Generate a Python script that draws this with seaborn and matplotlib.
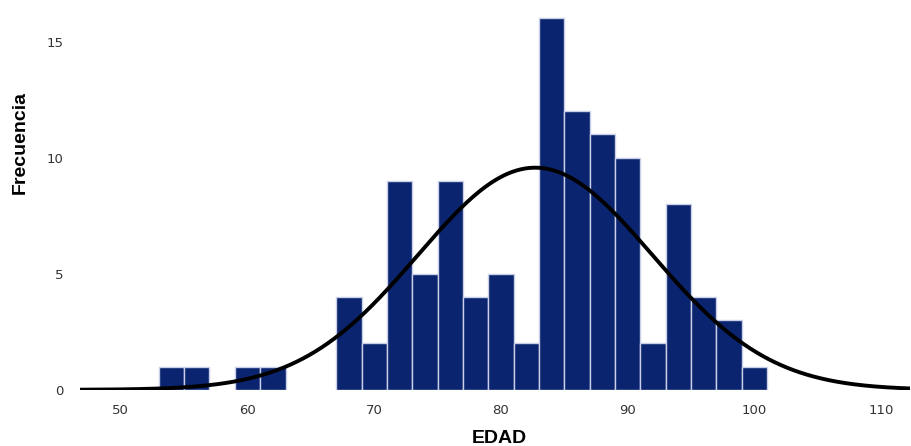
import numpy as np
import pandas as pd
import matplotlib
matplotlib.use("Agg")
import matplotlib.pyplot as plt
import seaborn as sns

# === Data (bin width 2 years) ===
bin_start = [53, 55, 59, 61, 67, 69, 71, 73, 75, 77, 79, 81, 83, 85, 87, 89, 91, 93, 95, 97, 99]
counts    = [1,  1,  1,  1,  4,  2,  9,  5,  9,  4,  5,  2,  16, 12, 11, 10, 2,  8,  4,  3,  1]
bin_width = 2
x_ticks = [50, 60, 70, 80, 90, 100, 110]
y_ticks = [0, 5, 10, 15]

df = pd.DataFrame({"EDAD": np.array(bin_start) + bin_width / 2, "n": counts})

# normal curve fitted to the data
n_total = df["n"].sum()
mu = np.average(df["EDAD"], weights=df["n"])
sd = np.sqrt(np.average((df["EDAD"] - mu) ** 2, weights=df["n"]))

sns.set_style("white")
plt.rcParams["font.family"] = ["DejaVu Sans"]

fig = plt.figure(figsize=(9.12, 4.46), dpi=100)
ax = fig.add_axes([0.088, 0.126, 0.91, 0.838])

sns.histplot(data=df, x="EDAD", weights="n", binwidth=bin_width,
             binrange=(min(bin_start), max(bin_start) + bin_width), ax=ax,
             color="#0b2470", edgecolor="#c9d0e6", linewidth=1, alpha=1)
# empty bins should not leave a stray edge
for p in ax.patches:
    if p.get_height() == 0:
        p.set_visible(False)

xs = np.linspace(46.8, 112.3, 400)
pdf = n_total * bin_width * np.exp(-0.5 * ((xs - mu) / sd) ** 2) / (sd * np.sqrt(2 * np.pi))
ax.plot(xs, pdf, color="black", linewidth=2.8, solid_capstyle="round")

ax.set_xlim(46.8, 112.3)
ax.set_ylim(0, 16.1)
ax.set_xticks(x_ticks)
ax.set_yticks(y_ticks)
ax.tick_params(axis="both", length=0, labelsize=9.5, colors="#333333", pad=12)
ax.tick_params(axis="x", pad=10)
sns.despine(ax=ax, left=True, bottom=True)

ax.set_xlabel("EDAD", fontsize=14, fontweight="bold", family="Liberation Sans", color="black")
ax.xaxis.set_label_coords(0.505, -0.108)
ax.xaxis.label.set_va("top")
ax.set_ylabel("Frecuencia", fontsize=14, fontweight="bold", family="Liberation Sans", color="black")
ax.yaxis.set_label_coords(-0.072, 0.663)
ax.yaxis.label.set_va("center")

fig.savefig("out.png", dpi=100)
